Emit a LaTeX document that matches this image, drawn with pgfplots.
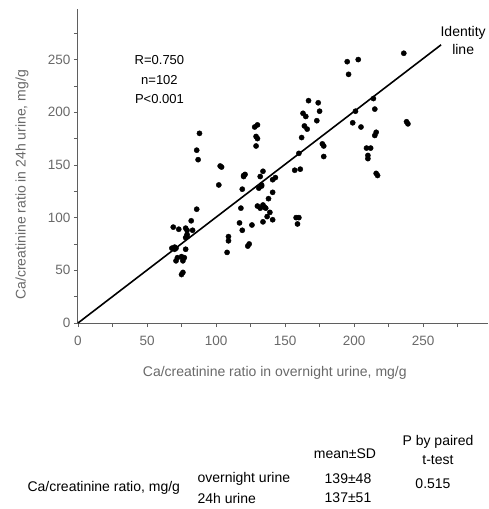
\documentclass[border=0pt]{standalone}
\usepackage{pgfplots}
\pgfplotsset{compat=1.18}
\usepackage{fontspec}
\setmainfont{Liberation Sans}
\definecolor{axgray}{RGB}{95,95,95}
\definecolor{labgray}{RGB}{105,105,105}
\begin{document}
\begin{tikzpicture}
\useasboundingbox (-78pt,-186pt) rectangle (410pt,323pt);
\begin{axis}[
  at={(0pt,0pt)}, anchor=south west,
  scale only axis, width=410pt, height=314pt,
  xmin=0, xmax=297, ymin=0, ymax=298,
  axis lines=left, axis line style={axgray, line width=1pt, -},
  xtick={0,50,...,250}, ytick={0,50,...,250},
  minor xtick={25,75,...,275}, minor ytick={25,75,...,275},
  tick align=outside, major tick length=4pt, minor tick length=4pt,
  tick style={axgray, line width=0.8pt},
  ticklabel style={font=\fontsize{13.5}{15}\selectfont, text=labgray},
  xticklabel style={yshift=-6pt},
  /pgf/number format/assume math mode=true,
  xlabel={Ca/creatinine ratio in overnight urine, mg/g},
  ylabel={Ca/creatinine ratio in 24h urine, mg/g},
  label style={font=\fontsize{14}{16}\selectfont, text=labgray},
  xlabel style={at={(axis description cs:0.48,0)}, anchor=north, yshift=-40pt},
  ylabel style={at={(axis description cs:0,0.44)}, anchor=south, yshift=46pt},
  clip=false,
]
\addplot[only marks, mark=*, mark size=2.6pt, black] coordinates {
(69,91) (73,89) (88,180) (86,164) (87,155) (86,108) (82,97) (78,90) (79,88) (83,88)
(79,82) (78,81) (68,71) (70,72) (71,71) (78,70) (72,62) (75,63) (77,62) (76,59)
(71,59) (75,46) (76,48) (70,70) (76,61) (79,84)
(103,149) (104,148) (102,131) (120,139) (121,141) (119,127) (118,109) (117,95) (119,88) (109,82)
(109,78) (108,67) (123,73) (124,75) (126,93) (120,140)
(132,139) (134,144) (131,128) (133,130) (141,136) (143,138) (141,124) (138,118) (130,111) (132,109)
(134,112) (136,109) (139,105) (137,101) (141,98) (134,96) (133,131) (135,110)
(157,145) (161,146) (158,100) (160,100) (159,94)
(216,142) (217,140) (210,159) (210,156) (209,166) (212,166) (216,181) (215,178) (199,190) (205,186)
(201,201) (214,213) (215,203) (238,191) (239,189) (236,256) (195,248) (203,250) (196,236)
(167,211) (174,209) (175,201) (163,199) (165,196) (173,192) (164,187) (166,184) (162,176) (177,170)
(178,168) (178,158) (160,161) (128,186) (130,188) (129,177) (130,175) (129,168)
};
\addplot[black, line width=1.6pt] coordinates {(0,0) (263,264)};
\node[align=center, font=\fontsize{13}{19.5}\selectfont] at (axis cs:59,231) {R=0.750\\n=102\\P<0.001};
\node[align=center, font=\fontsize{14}{18}\selectfont] at (axis cs:279,268) {Identity\\line};
\end{axis}
\begin{scope}[every node/.style={font=\fontsize{14}{19}\selectfont}]
\node[anchor=west] at (-54pt,-165pt) {Ca/creatinine ratio, mg/g};
\node[anchor=west] at (116pt,-156pt) {overnight urine};
\node[anchor=west] at (116pt,-175pt) {24h urine};
\node at (267pt,-131pt) {mean±SD};
\node[align=center] at (360pt,-127pt) {P by paired\\t-test};
\node at (270pt,-156pt) {139±48};
\node at (270pt,-175pt) {137±51};
\node at (355pt,-161pt) {0.515};
\end{scope}
\end{tikzpicture}
\end{document}
